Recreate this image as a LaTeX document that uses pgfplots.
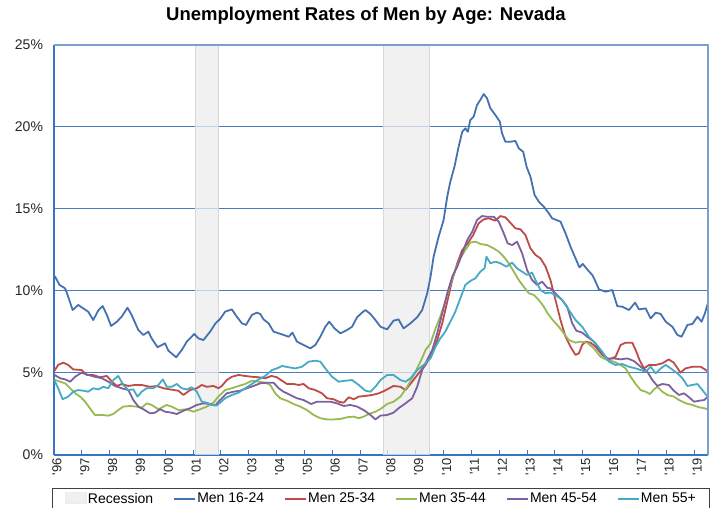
\documentclass[border=0pt]{standalone}
\usepackage{fontspec}
\setmainfont{Liberation Sans}
\usepackage{pgfplots}
\pgfplotsset{compat=1.18}
\definecolor{axisblue}{RGB}{52,118,196}
\definecolor{borderblue}{RGB}{120,160,210}
\definecolor{gridblue}{RGB}{70,125,190}
\definecolor{recgray}{RGB}{236,236,236}
\definecolor{recedge}{RGB}{215,215,215}
\definecolor{c1}{RGB}{68,114,176}
\definecolor{c2}{RGB}{190,75,72}
\definecolor{c3}{RGB}{152,185,84}
\definecolor{c4}{RGB}{125,96,160}
\definecolor{c5}{RGB}{70,170,197}
\begin{document}
\begin{tikzpicture}
\begin{axis}[name=ax,
  at={(0pt,0pt)}, anchor=south west,
  scale only axis, width=654pt, height=410pt,
  xmin=1996, xmax=2019.5, ymin=0, ymax=25,
  axis x line*=bottom, axis y line*=left,
  axis line style={draw=axisblue, line width=2pt, -},
  xtick={1996,...,2019},
  xticklabels={\textquotesingle96,\textquotesingle97,\textquotesingle98,\textquotesingle99,\textquotesingle00,\textquotesingle01,\textquotesingle02,\textquotesingle03,\textquotesingle04,\textquotesingle05,\textquotesingle06,\textquotesingle07,\textquotesingle08,\textquotesingle09,\textquotesingle10,\textquotesingle11,\textquotesingle12,\textquotesingle13,\textquotesingle14,\textquotesingle15,\textquotesingle16,\textquotesingle17,\textquotesingle18,\textquotesingle19},
  ytick={0,5,10,15,20,25},
  yticklabels={0\%,5\%,10\%,15\%,20\%,25\%},
  tick align=inside, major tick length=5pt,
  xtick style={draw=axisblue, line width=1pt},
  ytick style={draw=none},
  x tick label style={rotate=90, anchor=east, yshift=-3pt, font=\fontsize{13}{14}\selectfont, text=black!85},
  y tick label style={xshift=-7.5pt, font=\fontsize{14}{16}\selectfont, text=black!85},
  ymajorgrids, major grid style={draw=gridblue, line width=1pt},
  title={Unemployment Rates of Men by Age: Nevada},
  title style={at={(0.5,1)}, anchor=base, yshift=18pt, xshift=-15pt, font=\bfseries\fontsize{18.5}{20}\selectfont},
  legend columns=6,
  legend style={at={(0.5,0)}, anchor=north, yshift=-33pt, draw=black!75, line width=0.75pt,
    font=\fontsize{14}{16}\selectfont, inner xsep=13pt, inner ysep=3pt,
    nodes={inner xsep=1pt, inner ysep=1.5pt},
    /tikz/every even column/.append style={column sep=19pt}},
  legend cell align=left,
  legend image code/.code={\draw[#1, line width=2pt] (0pt,0pt) -- (21pt,0pt);},
  every axis plot/.append style={line width=1.8pt, line join=round},
]
\addplot[fill=recgray, fill opacity=0.75, draw=recedge, line width=0.75pt,
  legend image code/.code={\fill[recgray] (0pt,-5pt) rectangle (21pt,6pt);}]
  coordinates {(2001.08,0) (2001.08,25) (2001.89,25) (2001.89,0)} -- cycle;
\addlegendentry{Recession}
\addplot[fill=recgray, fill opacity=0.75, draw=recedge, line width=0.75pt, forget plot]
  coordinates {(2007.82,0) (2007.82,25) (2009.49,25) (2009.49,0)} -- cycle;

\addplot[c1] coordinates {
(1996.0,10.9)(1996.04,10.87)(1996.2,10.37)(1996.4,10.16)(1996.51,9.65)(1996.67,8.84)(1996.87,9.15)
(1997.05,8.94)(1997.23,8.74)(1997.41,8.23)(1997.6,8.84)(1997.75,9.08)(1997.9,8.54)(1998.05,7.87)
(1998.26,8.13)(1998.43,8.43)(1998.64,8.98)(1998.79,8.54)(1999.03,7.62)(1999.21,7.32)(1999.39,7.52)
(1999.51,7.11)(1999.72,6.57)(1999.99,6.81)(2000.11,6.36)(2000.39,5.96)(2000.59,6.40)(2000.77,6.91)
(2001.04,7.38)(2001.19,7.11)(2001.37,7.01)(2001.61,7.52)(2001.79,8.0)(2001.97,8.3)(2002.15,8.74)
(2002.39,8.88)(2002.57,8.43)(2002.75,8.03)(2002.9,7.93)(2003.11,8.54)(2003.29,8.68)(2003.41,8.6)
(2003.53,8.27)(2003.71,8.03)(2003.89,7.52)(2004.07,7.42)(2004.25,7.32)(2004.43,7.21)(2004.57,7.46)
(2004.73,6.91)(2004.97,6.71)(2005.21,6.5)(2005.39,6.71)(2005.57,7.21)(2005.75,7.82)(2005.89,8.13)
(2006.08,7.72)(2006.29,7.42)(2006.53,7.62)(2006.71,7.82)(2006.89,8.4)(2007.07,8.68)(2007.19,8.84)
(2007.37,8.60)(2007.55,8.23)(2007.73,7.82)(2007.97,7.66)(2008.2,8.19)(2008.38,8.27)(2008.56,7.72)
(2008.81,8.03)(2009.05,8.4)(2009.23,8.84)(2009.41,9.86)(2009.53,10.87)(2009.64,12.09)(2009.82,13.31)
(2010.0,14.33)(2010.13,15.75)(2010.24,16.66)(2010.39,17.58)(2010.54,18.8)(2010.67,19.71)(2010.78,19.92)
(2010.87,19.71)(2010.96,20.43)(2011.08,20.63)(2011.2,21.34)(2011.32,21.65)(2011.44,22.01)(2011.56,21.75)
(2011.68,21.14)(2011.86,20.73)(2012.02,20.32)(2012.1,19.61)(2012.22,19.1)(2012.4,19.1)(2012.58,19.15)
(2012.7,18.7)(2012.86,18.49)(2012.98,17.58)(2013.12,16.97)(2013.27,15.85)(2013.42,15.45)(2013.6,15.14)
(2013.78,14.74)(2013.9,14.43)(2014.2,14.23)(2014.38,13.52)(2014.56,12.7)(2014.74,11.99)(2014.88,11.44)
(2015.0,11.65)(2015.16,11.32)(2015.34,10.98)(2015.46,10.57)(2015.58,10.1)(2015.82,9.96)(2016.06,10.06)
(2016.24,9.08)(2016.42,9.04)(2016.66,8.84)(2016.88,9.29)(2017.02,8.88)(2017.26,8.94)(2017.44,8.33)
(2017.62,8.68)(2017.8,8.6)(2017.98,8.13)(2018.22,7.82)(2018.4,7.32)(2018.55,7.21)(2018.76,7.93)
(2018.94,7.99)(2019.12,8.43)(2019.27,8.13)(2019.39,8.64)(2019.5,9.29)};
\addlegendentry{Men 16-24}

\addplot[c2] coordinates {
(1996.0,5.1)(1996.15,5.49)(1996.33,5.63)(1996.51,5.49)(1996.69,5.22)(1996.99,5.18)(1997.18,4.88)
(1997.41,4.88)(1997.65,4.74)(1997.9,4.82)(1998.08,4.47)(1998.26,4.21)(1998.43,4.33)(1998.67,4.21)
(1998.91,4.27)(1999.15,4.27)(1999.45,4.16)(1999.69,4.21)(1999.93,4.07)(2000.17,4.0)(2000.47,3.92)
(2000.65,3.66)(2000.89,3.96)(2001.13,4.07)(2001.31,4.27)(2001.49,4.16)(2001.73,4.21)(2001.91,4.07)
(2002.03,4.21)(2002.21,4.57)(2002.39,4.77)(2002.63,4.88)(2002.87,4.82)(2003.11,4.77)(2003.35,4.74)
(2003.59,4.68)(2003.81,4.82)(2004.01,4.74)(2004.19,4.53)(2004.37,4.33)(2004.61,4.33)(2004.79,4.27)
(2004.97,4.33)(2005.15,4.07)(2005.39,3.96)(2005.63,3.76)(2005.81,3.46)(2006.05,3.4)(2006.23,3.25)
(2006.41,3.19)(2006.59,3.52)(2006.77,3.4)(2006.95,3.56)(2007.19,3.6)(2007.43,3.66)(2007.67,3.76)
(2007.88,3.92)(2008.2,4.21)(2008.45,4.16)(2008.63,3.96)(2008.87,4.47)(2009.1,4.98)(2009.35,5.49)
(2009.59,6.2)(2009.77,7.01)(2009.95,8.03)(2010.13,9.35)(2010.31,10.67)(2010.49,11.69)(2010.67,12.5)
(2010.87,12.91)(2011.06,13.41)(2011.26,14.13)(2011.44,14.37)(2011.62,14.43)(2011.86,14.29)(2012.04,14.57)
(2012.22,14.49)(2012.4,14.16)(2012.58,13.82)(2012.76,13.76)(2012.94,13.41)(2013.12,12.6)(2013.3,12.2)
(2013.48,11.99)(2013.66,11.5)(2013.84,10.67)(2014.02,9.45)(2014.2,8.23)(2014.38,7.21)(2014.56,6.6)
(2014.74,6.1)(2014.86,6.2)(2014.98,6.71)(2015.1,6.91)(2015.28,6.85)(2015.46,6.6)(2015.7,6.1)
(2015.94,5.83)(2016.18,5.99)(2016.36,6.71)(2016.54,6.85)(2016.78,6.85)(2016.9,6.4)(2017.04,5.79)
(2017.2,5.28)(2017.38,5.49)(2017.62,5.49)(2017.86,5.59)(2018.09,5.83)(2018.27,5.63)(2018.51,5.02)
(2018.69,5.28)(2018.94,5.38)(2019.24,5.38)(2019.39,5.22)(2019.5,5.08)};
\addlegendentry{Men 25-34}

\addplot[c3] coordinates {
(1996.0,4.6)(1996.22,4.47)(1996.4,4.37)(1996.58,4.07)(1996.76,3.76)(1996.94,3.56)(1997.12,3.25)
(1997.29,2.85)(1997.47,2.44)(1997.72,2.44)(1997.95,2.4)(1998.13,2.5)(1998.31,2.74)(1998.49,2.95)
(1998.73,2.99)(1998.97,2.95)(1999.15,2.88)(1999.33,3.15)(1999.51,3.05)(1999.75,2.79)(2000.05,3.05)
(2000.23,2.95)(2000.47,2.74)(2000.77,2.79)(2001.01,2.64)(2001.25,2.79)(2001.49,2.95)(2001.73,3.19)
(2001.9,3.55)(2002.15,3.96)(2002.39,4.07)(2002.63,4.21)(2002.87,4.33)(2003.11,4.53)(2003.35,4.47)
(2003.59,4.41)(2003.77,4.27)(2003.95,3.76)(2004.13,3.46)(2004.37,3.31)(2004.61,3.11)(2004.85,2.95)
(2005.09,2.74)(2005.33,2.44)(2005.57,2.24)(2005.81,2.17)(2006.05,2.17)(2006.29,2.2)(2006.53,2.3)
(2006.77,2.34)(2006.95,2.24)(2007.13,2.34)(2007.31,2.5)(2007.55,2.64)(2007.73,2.8)(2007.97,3.11)
(2008.2,3.25)(2008.45,3.56)(2008.69,4.16)(2008.93,4.88)(2009.17,5.69)(2009.35,6.4)(2009.53,6.81)
(2009.71,7.72)(2009.88,8.43)(2010.06,9.35)(2010.24,10.37)(2010.42,11.28)(2010.6,11.99)(2010.78,12.5)
(2010.96,12.95)(2011.14,13.01)(2011.32,12.87)(2011.56,12.8)(2011.8,12.6)(2011.98,12.4)(2012.16,12.09)
(2012.34,11.69)(2012.52,11.18)(2012.7,10.67)(2012.88,10.26)(2013.06,9.86)(2013.24,9.76)(2013.42,9.45)
(2013.6,9.04)(2013.75,8.6)(2013.9,8.27)(2014.14,7.82)(2014.32,7.42)(2014.5,7.01)(2014.74,6.85)
(2014.92,6.91)(2015.16,6.85)(2015.4,6.5)(2015.64,5.99)(2015.88,5.79)(2016.12,5.69)(2016.36,5.49)
(2016.54,5.28)(2016.72,4.77)(2016.9,4.33)(2017.08,3.96)(2017.26,3.86)(2017.41,3.72)(2017.56,4.0)
(2017.68,4.16)(2017.86,3.86)(2018.04,3.66)(2018.28,3.56)(2018.46,3.35)(2018.71,3.15)(2018.94,3.05)
(2019.18,2.91)(2019.36,2.85)(2019.5,2.79)};
\addlegendentry{Men 35-44}

\addplot[c4] coordinates {
(1996.0,4.9)(1996.22,4.68)(1996.4,4.61)(1996.58,4.47)(1996.76,4.77)(1996.99,5.02)(1997.23,4.88)
(1997.47,4.77)(1997.72,4.68)(1997.95,4.47)(1998.19,4.21)(1998.43,4.07)(1998.67,3.96)(1998.85,3.35)
(1999.03,2.95)(1999.21,2.79)(1999.45,2.54)(1999.63,2.58)(1999.81,2.79)(1999.99,2.64)(2000.23,2.58)
(2000.41,2.5)(2000.65,2.7)(2000.89,2.85)(2001.13,3.05)(2001.37,3.15)(2001.61,3.11)(2001.79,3.02)
(2002.03,3.46)(2002.21,3.76)(2002.45,3.86)(2002.69,3.92)(2002.93,4.07)(2003.17,4.21)(2003.41,4.37)
(2003.65,4.41)(2003.89,4.41)(2004.07,4.07)(2004.25,3.86)(2004.49,3.66)(2004.73,3.46)(2004.97,3.35)
(2005.24,3.11)(2005.45,3.25)(2005.69,3.25)(2005.93,3.25)(2006.17,3.15)(2006.41,2.99)(2006.65,3.05)
(2006.89,2.95)(2007.13,2.74)(2007.37,2.44)(2007.55,2.17)(2007.73,2.4)(2007.97,2.44)(2008.2,2.58)
(2008.38,2.85)(2008.63,3.15)(2008.87,3.46)(2009.05,4.16)(2009.23,5.18)(2009.41,5.79)(2009.59,6.4)
(2009.77,7.42)(2009.95,8.64)(2010.13,9.86)(2010.31,10.87)(2010.49,11.48)(2010.67,12.3)(2010.85,13.11)
(2011.03,13.62)(2011.2,14.33)(2011.38,14.57)(2011.56,14.53)(2011.8,14.53)(2011.98,14.23)(2012.16,13.52)
(2012.3,12.91)(2012.46,12.8)(2012.64,13.01)(2012.82,12.3)(2013.0,11.28)(2013.18,10.67)(2013.36,10.37)
(2013.54,10.57)(2013.72,10.2)(2013.84,10.16)(2014.02,9.86)(2014.26,9.45)(2014.44,9.04)(2014.62,8.03)
(2014.77,7.58)(2014.98,7.46)(2015.16,7.21)(2015.4,6.91)(2015.64,6.3)(2015.88,5.89)(2016.12,5.89)
(2016.36,5.83)(2016.6,5.89)(2016.84,5.73)(2017.08,5.38)(2017.32,5.08)(2017.5,4.57)(2017.68,4.21)
(2017.86,4.33)(2018.09,4.27)(2018.27,3.92)(2018.46,3.66)(2018.64,3.76)(2018.82,3.52)(2019.0,3.25)
(2019.18,3.31)(2019.36,3.35)(2019.5,3.56)};
\addlegendentry{Men 45-54}

\addplot[c5] coordinates {
(1996.0,4.6)(1996.15,4.07)(1996.31,3.4)(1996.51,3.56)(1996.69,3.86)(1996.87,3.96)(1997.05,3.92)
(1997.23,3.86)(1997.41,4.07)(1997.6,4.0)(1997.77,4.16)(1997.95,4.07)(1998.13,4.57)(1998.31,4.82)
(1998.49,4.27)(1998.67,3.96)(1998.85,4.0)(1999.0,3.56)(1999.15,3.86)(1999.33,4.07)(1999.57,4.07)
(1999.75,4.27)(1999.91,4.61)(2000.05,4.16)(2000.23,4.16)(2000.41,4.33)(2000.59,4.07)(2000.77,4.0)
(2000.95,4.13)(2001.13,3.86)(2001.31,3.25)(2001.49,3.19)(2001.67,3.05)(2001.85,3.02)(2001.97,3.19)
(2002.15,3.46)(2002.39,3.66)(2002.63,3.8)(2002.87,4.07)(2003.11,4.33)(2003.35,4.61)(2003.59,4.82)
(2003.83,5.18)(2004.01,5.28)(2004.19,5.43)(2004.43,5.35)(2004.67,5.28)(2004.91,5.38)(2005.15,5.69)
(2005.39,5.75)(2005.57,5.69)(2005.75,5.28)(2005.99,4.77)(2006.23,4.47)(2006.47,4.53)(2006.71,4.57)
(2006.95,4.27)(2007.19,3.92)(2007.37,3.86)(2007.55,4.16)(2007.73,4.57)(2007.97,4.88)(2008.2,4.88)
(2008.45,4.57)(2008.63,4.47)(2008.81,4.68)(2009.05,5.18)(2009.28,5.49)(2009.53,5.89)(2009.71,6.6)
(2009.88,7.11)(2010.06,7.52)(2010.24,8.13)(2010.42,8.74)(2010.6,9.55)(2010.78,10.37)(2010.96,10.61)
(2011.14,10.77)(2011.32,11.18)(2011.47,11.38)(2011.54,12.09)(2011.68,11.69)(2011.86,11.79)(2012.04,11.69)
(2012.26,11.48)(2012.46,11.73)(2012.64,11.38)(2012.82,11.18)(2013.0,10.98)(2013.18,11.12)(2013.3,10.67)
(2013.48,10.06)(2013.66,9.86)(2013.84,9.9)(2014.02,9.76)(2014.26,9.45)(2014.5,8.84)(2014.74,8.23)
(2014.98,7.82)(2015.22,7.21)(2015.46,6.81)(2015.7,6.3)(2015.94,5.69)(2016.18,5.49)(2016.42,5.55)
(2016.66,5.38)(2016.9,5.28)(2017.08,5.18)(2017.26,5.08)(2017.44,5.38)(2017.62,4.98)(2017.8,5.28)
(2017.98,5.49)(2018.16,5.28)(2018.4,4.98)(2018.58,4.68)(2018.76,4.21)(2018.94,4.27)(2019.12,4.33)
(2019.3,3.96)(2019.5,3.52)};
\addlegendentry{Men 55+}
\end{axis}
\draw[borderblue, line width=1.5pt] (ax.north west) -- (ax.north east) -- (ax.south east);
\pgfresetboundingbox
\path[use as bounding box] ([xshift=-54pt,yshift=-53pt]ax.south west) rectangle ([xshift=17pt,yshift=45pt]ax.north east);
\end{tikzpicture}
\end{document}
